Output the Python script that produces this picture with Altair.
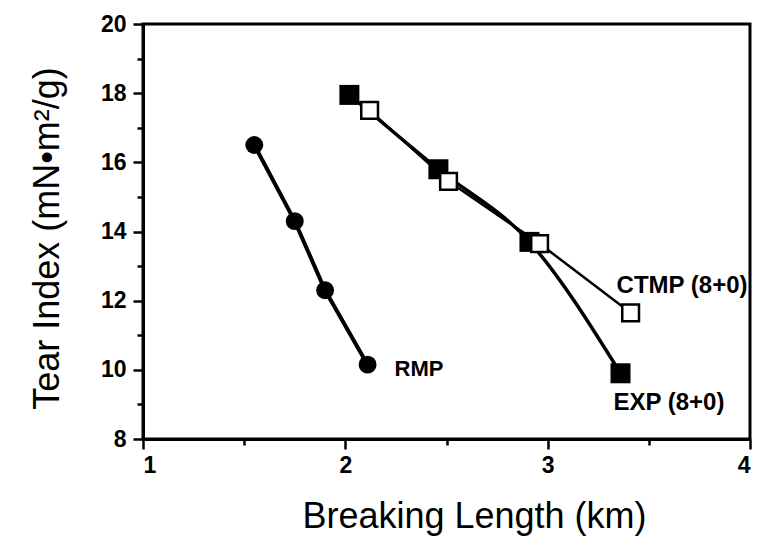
import altair as alt
import pandas as pd

# Data
rmp_x = [1.55, 1.75, 1.90, 2.11]
rmp_y = [16.5, 14.3, 12.3, 10.15]
exp_x = [2.02, 2.46, 2.91, 3.36]
exp_y = [17.95, 15.8, 13.7, 9.9]
ctmp_x = [2.12, 2.51, 2.96, 3.41]
ctmp_y = [17.5, 15.45, 13.65, 11.65]

x_major = [1, 2, 3, 4]
x_minor = [1.5, 2.5, 3.5]
y_major = [8, 10, 12, 14, 16, 18, 20]
y_minor = [9, 11, 13, 15, 17, 19]

rmp = pd.DataFrame({"x": rmp_x, "y": rmp_y})
exp_ = pd.DataFrame({"x": exp_x, "y": exp_y})
ctmp = pd.DataFrame({"x": ctmp_x, "y": ctmp_y})

FONT = "Liberation Sans"
xs = alt.Scale(domain=[1, 4], nice=False, zero=False)
ys = alt.Scale(domain=[8, 20], nice=False, zero=False)

x_main = alt.Axis(orient="bottom", values=x_major, format="d", grid=False,
                  labelFont=FONT, labelFontSize=23, labelFontWeight="bold",
                  labelColor="black", labelPadding=5, tickSize=10, tickWidth=2.5,
                  tickColor="black", domainColor="black", domainWidth=3,
                  title="Breaking Length (km)", titleFont=FONT, titleFontSize=36,
                  titleFontWeight="normal", titleColor="black",
                  titleX=331, titleY=88, titleBaseline="alphabetic")
y_main = alt.Axis(orient="left", values=y_major, format="d", grid=False,
                  labelFont=FONT, labelFontSize=23, labelFontWeight="bold",
                  labelColor="black", labelPadding=7, tickSize=10, tickWidth=2.5,
                  tickColor="black", domainColor="black", domainWidth=3,
                  title="Tear Index (mN•m²/g)", titleFont=FONT, titleFontSize=36,
                  titleFontWeight="normal", titleColor="black",
                  titleX=-85, titleY=214, titleBaseline="alphabetic", titleAngle=-90)
x_min = alt.Axis(orient="bottom", values=x_minor, labels=False, domain=False,
                 grid=False, tickSize=6, tickWidth=2.5, tickColor="black", title=None)
y_min = alt.Axis(orient="left", values=y_minor, labels=False, domain=False,
                 grid=False, tickSize=6, tickWidth=2.5, tickColor="black", title=None)


def enc(axx=None, axy=None):
    return dict(x=alt.X("x:Q", scale=xs, axis=axx), y=alt.Y("y:Q", scale=ys, axis=axy))


rmp_line = alt.Chart(rmp).mark_line(color="black", strokeWidth=4).encode(**enc(x_main, y_main))
rmp_pts = alt.Chart(rmp).mark_point(shape="circle", filled=True, size=320, color="black",
                                    opacity=1).encode(**enc(x_min, y_min))
exp_line = alt.Chart(exp_).mark_line(color="black", strokeWidth=3.5,
                                     interpolate="monotone").encode(**enc())
ctmp_line = alt.Chart(ctmp).mark_line(color="black", strokeWidth=2.5).encode(**enc())
exp_pts = alt.Chart(exp_).mark_square(filled=True, size=400, color="black",
                                      opacity=1).encode(**enc())
ctmp_pts = alt.Chart(ctmp).mark_square(filled=True, fill="white", stroke="black",
                                       strokeWidth=2.5, size=280, opacity=1).encode(**enc())

rmp_lab = alt.Chart(rmp.tail(1).assign(t="RMP")).mark_text(
    font=FONT, fontSize=22, fontWeight="bold", color="black", align="left",
    baseline="middle", dx=27, dy=4).encode(text="t:N", **enc())
ctmp_lab = alt.Chart(ctmp.tail(1).assign(t="CTMP (8+0)")).mark_text(
    font=FONT, fontSize=24, fontWeight="bold", color="black", align="left",
    baseline="middle", dx=-14, dy=-27).encode(text="t:N", **enc())
exp_lab = alt.Chart(exp_.tail(1).assign(t="EXP (8+0)")).mark_text(
    font=FONT, fontSize=24, fontWeight="bold", color="black", align="left",
    baseline="middle", dx=-7, dy=30).encode(text="t:N", **enc())

chart = alt.layer(
    rmp_line, rmp_pts, exp_line, ctmp_line, exp_pts, ctmp_pts, rmp_lab, ctmp_lab, exp_lab
).resolve_axis(x="independent", y="independent").properties(
    width=607, height=415,
    padding={"left": 143, "top": 24, "right": 8, "bottom": 108},
    autosize="none",
    background="white",
).configure_view(stroke="black", strokeWidth=3)

chart.save("out.html", embed_options={"renderer": "svg", "actions": False})
